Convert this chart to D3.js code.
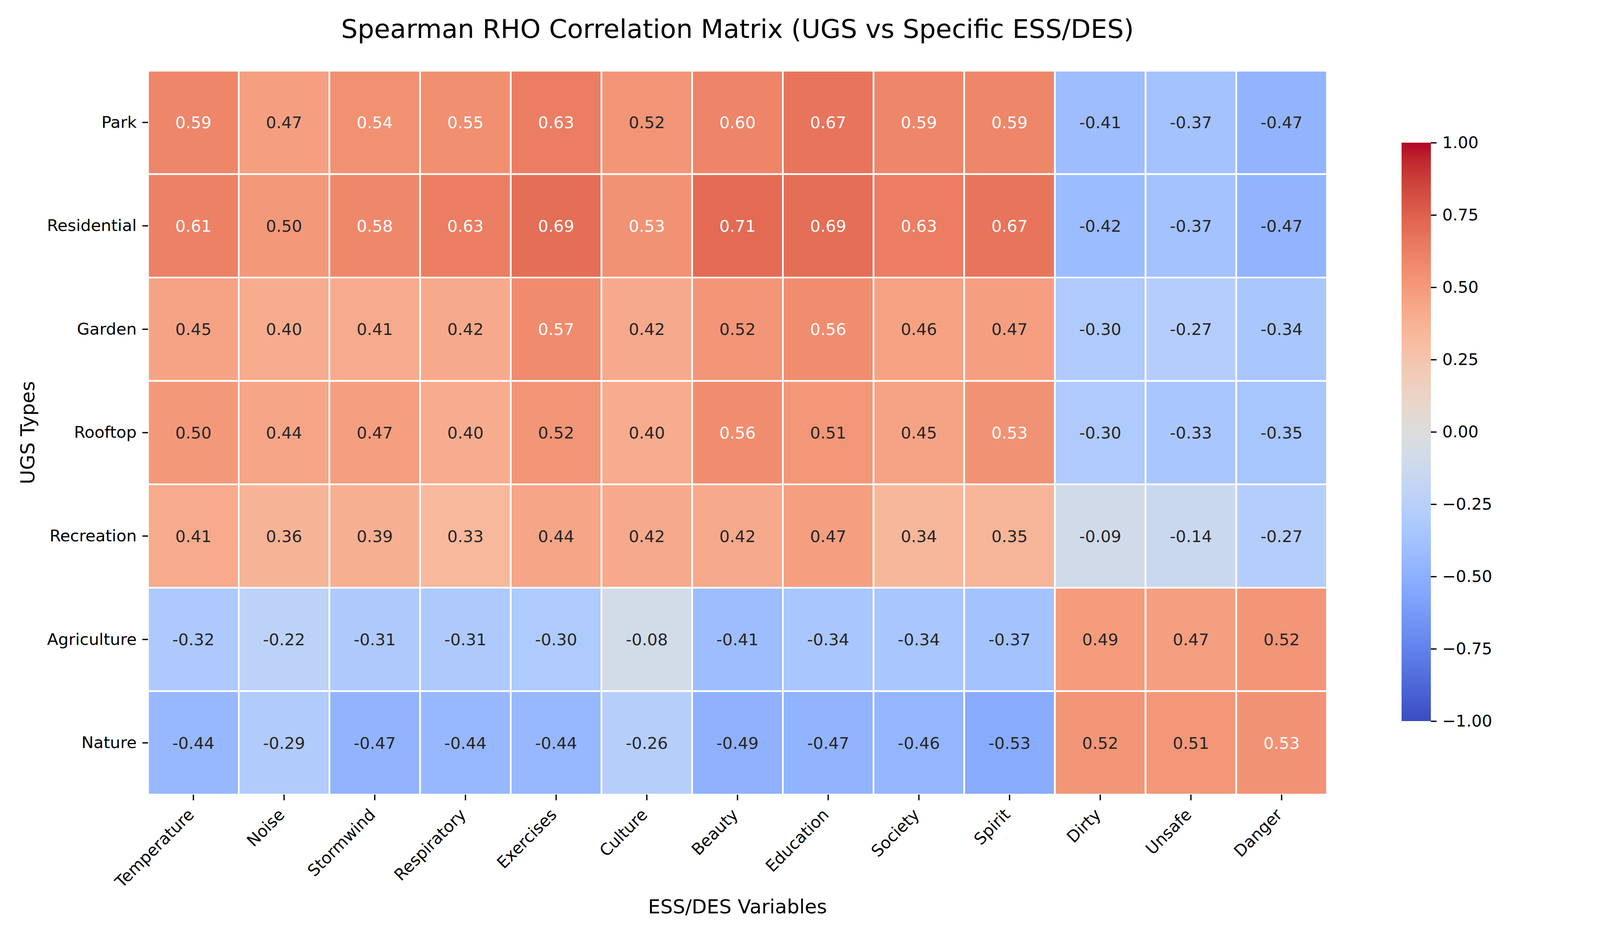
<!DOCTYPE html>
<html>
<head>
<meta charset="utf-8">
<script src="https://cdn.jsdelivr.net/npm/d3@7"></script>
<style>
  body { margin: 0; background: #fff; }
  svg text { font-family: "DejaVu Sans", sans-serif; }
</style>
</head>
<body>
<div id="chart"></div>
<script>
// row and column labels
const ugsTypes = ['Park', 'Residential', 'Garden', 'Rooftop', 'Recreation', 'Agriculture', 'Nature']
const essVars = ['Temperature', 'Noise', 'Stormwind', 'Respiratory', 'Exercises', 'Culture',
  'Beauty', 'Education', 'Society', 'Spirit', 'Dirty', 'Unsafe', 'Danger']

// spearman rho, one array per UGS type
// (0.53 cells are drawn with the darker colour step, so they sit just above 0.531)
const park        = [0.59, 0.47, 0.54, 0.55, 0.63, 0.52, 0.60, 0.67, 0.59, 0.59, -0.41, -0.37, -0.47]
const residential = [0.61, 0.50, 0.58, 0.63, 0.69, 0.532, 0.71, 0.69, 0.63, 0.67, -0.42, -0.37, -0.47]
const garden      = [0.45, 0.40, 0.41, 0.42, 0.57, 0.42, 0.52, 0.56, 0.46, 0.47, -0.30, -0.27, -0.34]
const rooftop     = [0.50, 0.44, 0.47, 0.40, 0.52, 0.40, 0.56, 0.51, 0.45, 0.532, -0.30, -0.33, -0.35]
const recreation  = [0.41, 0.36, 0.39, 0.33, 0.44, 0.42, 0.42, 0.47, 0.34, 0.35, -0.09, -0.14, -0.27]
const agriculture = [-0.32, -0.22, -0.31, -0.31, -0.30, -0.08, -0.41, -0.34, -0.34, -0.37, 0.49, 0.47, 0.52]
const nature      = [-0.44, -0.29, -0.47, -0.44, -0.44, -0.26, -0.49, -0.47, -0.46, -0.53, 0.52, 0.51, 0.532]
const rhoRows = [park, residential, garden, rooftop, recreation, agriculture, nature]

const cbarTicks = [-1, -0.75, -0.5, -0.25, 0, 0.25, 0.5, 0.75, 1]

// coolwarm control points (position, r, g, b)
const coolwarmStops = [
  [0, 0.2298057, 0.298717966, 0.753683153],
  [0.03125, 0.26623388, 0.353094838, 0.801466763],
  [0.0625, 0.30386891, 0.406535296, 0.84495867],
  [0.09375, 0.342804478, 0.458757618, 0.883725899],
  [0.125, 0.38301334, 0.50941904, 0.917387822],
  [0.15625, 0.424369608, 0.558148092, 0.945619588],
  [0.1875, 0.46666708, 0.604562568, 0.968154911],
  [0.21875, 0.509635204, 0.648280772, 0.98478814],
  [0.25, 0.552953156, 0.688929332, 0.995375608],
  [0.28125, 0.596262162, 0.726149107, 0.999836203],
  [0.3125, 0.639176211, 0.759599947, 0.998151185],
  [0.34375, 0.681291281, 0.788964712, 0.990363227],
  [0.375, 0.722193294, 0.813952739, 0.976574709],
  [0.40625, 0.761464949, 0.834302879, 0.956945269],
  [0.4375, 0.798691636, 0.849786142, 0.931688648],
  [0.46875, 0.833466556, 0.860207984, 0.901068838],
  [0.5, 0.865395197, 0.86541021, 0.865395561],
  [0.53125, 0.897787179, 0.848937047, 0.820880546],
  [0.5625, 0.924127593, 0.827384882, 0.774508472],
  [0.59375, 0.944468518, 0.800927443, 0.726736146],
  [0.625, 0.958852946, 0.769767752, 0.678007945],
  [0.65625, 0.96732803, 0.734132809, 0.628751763],
  [0.6875, 0.969954137, 0.694266682, 0.579375448],
  [0.71875, 0.966811177, 0.650421156, 0.530263762],
  [0.75, 0.958003065, 0.602842431, 0.481775914],
  [0.78125, 0.943660866, 0.551750968, 0.434243684],
  [0.8125, 0.923944917, 0.49730856, 0.387970225],
  [0.84375, 0.89904617, 0.439559467, 0.343229596],
  [0.875, 0.869186849, 0.378313092, 0.300267182],
  [0.90625, 0.834620542, 0.312874446, 0.259301199],
  [0.9375, 0.795631745, 0.24128379, 0.220525627],
  [0.96875, 0.752534934, 0.157246067, 0.184115123],
  [1, 0.705673158, 0.01555616, 0.150232812]
]

const W = 4200, H = 2400
const fs = 41.7, tickLen = 14.6, tickW = 3.3

const cells = []
rhoRows.forEach((row, i) => row.forEach((v, j) => cells.push({r: ugsTypes[i], c: essVars[j], v: v})))

// 256 step lookup table, like matplotlib does it
// (interpolateArray reuses its output array, so copy every entry)
var cmap = d3.scaleLinear()
  .domain(coolwarmStops.map(d => d[0]))
  .range(coolwarmStops.map(d => [d[1], d[2], d[3]]))
var lut = d3.range(256).map(i => cmap(i / 255).slice())
var quant = d3.scaleQuantize().domain([-1, 1]).range(d3.range(256))

const toCss = c => d3.rgb(c[0] * 255, c[1] * 255, c[2] * 255).toString()
const color = v => toCss(lut[quant(v)])

// seaborn rule for the annotation colour
function luminance(c) {
  const lin = x => x <= 0.03928 ? x / 12.92 : Math.pow((x + 0.055) / 1.055, 2.4)
  return 0.2126 * lin(c[0]) + 0.7152 * lin(c[1]) + 0.0722 * lin(c[2])
}

var svg = d3.select('#chart').append('svg')
  .attr('width', W)
  .attr('height', H)

var hm = {left: 379, right: 3397, top: 181, bottom: 2033}

var x = d3.scaleBand().domain(essVars).range([hm.left, hm.right])
var y = d3.scaleBand().domain(ugsTypes).range([hm.top, hm.bottom])

svg.append('g').selectAll('rect')
  .data(cells)
  .enter()
  .append('rect')
    .attr('x', d => x(d.c))
    .attr('y', d => y(d.r))
    .attr('width', x.bandwidth())
    .attr('height', y.bandwidth())
    .attr('fill', d => color(d.v))
    .attr('stroke', '#fff')
    .attr('stroke-width', 4.2)

svg.append('g').selectAll('text')
  .data(cells)
  .enter()
  .append('text')
    .attr('x', d => x(d.c) + x.bandwidth() / 2)
    .attr('y', d => y(d.r) + y.bandwidth() / 2)
    .attr('dy', '0.36em')
    .attr('text-anchor', 'middle')
    .attr('font-size', fs)
    .attr('fill', d => luminance(lut[quant(d.v)]) > 0.408 ? '#262626' : '#ffffff')
    .text(d => d.v.toFixed(2))

// axes
var xAxis = svg.append('g')
  .attr('transform', 'translate(0,' + hm.bottom + ')')
  .call(d3.axisBottom(x).tickSize(tickLen).tickPadding(0))
xAxis.select('.domain').remove()
xAxis.selectAll('line').attr('stroke', '#000').attr('stroke-width', tickW)
xAxis.selectAll('text')
  .attr('font-size', fs)
  .attr('fill', '#000')
  .attr('text-anchor', 'end')
  .attr('dy', null)
  .attr('y', null)
  .attr('transform', 'translate(4,54) rotate(-45)')

var yAxis = svg.append('g')
  .attr('transform', 'translate(' + hm.left + ',0)')
  .call(d3.axisLeft(y).tickSize(tickLen).tickPadding(14.6))
yAxis.select('.domain').remove()
yAxis.selectAll('line').attr('stroke', '#000').attr('stroke-width', tickW)
yAxis.selectAll('text').attr('font-size', fs).attr('fill', '#000')

// colorbar
var cb = {left: 3588, right: 3663, top: 365, bottom: 1845}
var cScale = d3.scaleLinear().domain([-1, 1]).range([cb.bottom, cb.top])

var grad = svg.append('defs').append('linearGradient')
  .attr('id', 'cw')
  .attr('x1', 0).attr('y1', 1).attr('x2', 0).attr('y2', 0)
grad.selectAll('stop')
  .data(lut)
  .enter()
  .append('stop')
    .attr('offset', (d, i) => i / (lut.length - 1))
    .attr('stop-color', d => toCss(d))

svg.append('rect')
  .attr('x', cb.left)
  .attr('y', cb.top)
  .attr('width', cb.right - cb.left)
  .attr('height', cb.bottom - cb.top)
  .attr('fill', 'url(#cw)')

var cAxis = svg.append('g')
  .attr('transform', 'translate(' + cb.right + ',0)')
  .call(d3.axisRight(cScale).tickValues(cbarTicks).tickFormat(d3.format('.2f')).tickSize(tickLen).tickPadding(14.6))
cAxis.select('.domain').remove()
cAxis.selectAll('line').attr('stroke', '#000').attr('stroke-width', tickW)
cAxis.selectAll('text').attr('font-size', fs).attr('fill', '#000')

// titles
svg.append('text')
  .attr('x', (hm.left + hm.right) / 2)
  .attr('y', 97)
  .attr('text-anchor', 'middle')
  .attr('font-size', 66.7)
  .text('Spearman RHO Correlation Matrix (UGS vs Specific ESS/DES)')

svg.append('text')
  .attr('x', (hm.left + hm.right) / 2)
  .attr('y', 2337)
  .attr('text-anchor', 'middle')
  .attr('font-size', 50)
  .text('ESS/DES Variables')

svg.append('text')
  .attr('transform', 'translate(88,' + (hm.top + hm.bottom) / 2 + ') rotate(-90)')
  .attr('text-anchor', 'middle')
  .attr('font-size', 50)
  .text('UGS Types')
</script>
</body>
</html>
